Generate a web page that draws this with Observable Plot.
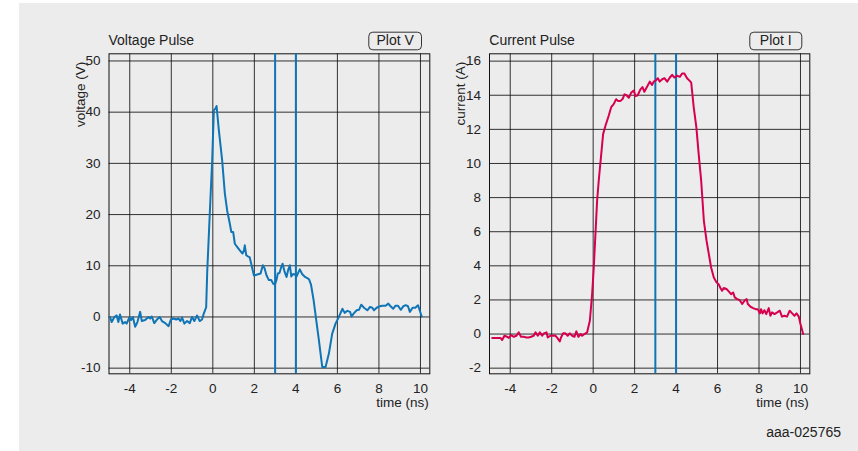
<!DOCTYPE html>
<html>
<head>
<meta charset="utf-8">
<script src="https://cdn.jsdelivr.net/npm/d3@7"></script>
<script src="https://cdn.jsdelivr.net/npm/@observablehq/plot@0.6"></script>
<style>
  html, body { margin: 0; padding: 0; background: #ffffff; }
  #page { position: relative; width: 858px; height: 451px; background: #ffffff; overflow: hidden; }
  #bg { position: absolute; left: 19px; top: 3px; right: 0; bottom: 0; background: #ececec; }
  .panel { position: absolute; top: 0; }
  #overlay { position: absolute; left: 0; top: 0; }
</style>
</head>
<body>
<div id="page">
  <div id="bg"></div>
  <div id="left" class="panel" style="left:0px"></div>
  <div id="right" class="panel" style="left:440px"></div>
</div>
<script>
// ---- data ----
const voltTime = [-4.95,-4.87,-4.74,-4.63,-4.55,-4.47,-4.34,-4.23,-4.15,-4.02,-3.94,-3.85,-3.74,-3.63,-3.5,-3.42,-3.26,-3.1,-3.02,-2.94,-2.82,-2.69,-2.56,-2.45,-2.29,-2.13,-2.02,-1.89,-1.76,-1.65,-1.56,-1.48,-1.37,-1.24,-1.11,-1.0,-0.89,-0.76,-0.63,-0.52,-0.44,-0.32,-0.27,-0.14,-0.03,0.05,0.13,0.18,0.29,0.45,0.58,0.69,0.82,0.89,0.98,1.06,1.17,1.30,1.43,1.5,1.54,1.61,1.71,1.77,1.85,1.98,2.14,2.30,2.41,2.49,2.59,2.70,2.81,2.91,2.99,3.07,3.13,3.21,3.30,3.36,3.46,3.55,3.63,3.71,3.78,3.87,3.95,4.03,4.11,4.19,4.30,4.42,4.55,4.64,4.73,4.85,4.96,5.11,5.27,5.43,5.59,5.75,5.91,6.07,6.24,6.35,6.48,6.61,6.68,6.80,6.93,7.04,7.15,7.28,7.44,7.57,7.68,7.76,7.89,8.05,8.16,8.32,8.45,8.56,8.69,8.80,8.92,9.05,9.18,9.29,9.40,9.49,9.62,9.75,9.88,9.94,10.06];
const voltValue = [0,-1,0,0.3,-1,0.5,-1.3,-1,-1.3,-0.1,-0.6,0,-1.9,-1,1,-0.8,-0.6,0,-0.3,0.1,-1.2,-0.5,0,-0.8,-1.2,-1.8,-0.5,-0.3,-0.5,-0.3,-0.8,-0.1,-1.3,-0.8,-1.2,0,-0.8,0.3,-0.8,-0.5,0.6,1.9,8.8,20.8,30.6,40.4,40.7,41.2,36.5,30.6,24.1,20.8,18.2,16.6,16.6,14.3,13.7,13.0,12.4,13,14.0,12.05,11.8,11.7,10.4,8.1,8.3,8.5,10.1,9.5,8.1,7.2,7.2,6.5,6.3,7.3,8.5,8.6,9.8,10.4,8.8,7.8,9.2,10.1,7.9,8.4,8.3,7.9,8.6,9.3,8.4,7.9,7.6,7.3,6.3,3.4,0,-4.55,-9.77,-9.77,-7.15,-3.25,-1.3,0,1.6,0.8,1.2,1.0,0.1,0.75,1.3,1.4,2.4,1.8,1.3,1.95,1.8,1.3,1.8,2.1,2.2,2.2,2.6,2.1,1.6,2.2,2.2,1.4,2.1,2.3,2.1,1.0,1.8,1.8,2.3,1.6,0.1];

const currTime = [-4.87,-4.47,-4.39,-4.28,-4.15,-4.07,-3.96,-3.83,-3.70,-3.59,-3.48,-3.35,-3.22,-3.11,-2.99,-2.87,-2.78,-2.67,-2.57,-2.46,-2.38,-2.25,-2.19,-2.06,-1.93,-1.82,-1.71,-1.61,-1.55,-1.45,-1.34,-1.23,-1.13,-1.01,-0.90,-0.81,-0.71,-0.61,-0.53,-0.42,-0.29,-0.16,-0.05,0.03,0.19,0.27,0.39,0.48,0.59,0.75,0.87,0.99,1.11,1.19,1.32,1.43,1.51,1.61,1.72,1.83,1.96,2.04,2.15,2.28,2.38,2.47,2.60,2.73,2.84,2.92,3.03,3.12,3.21,3.33,3.44,3.57,3.70,3.81,3.92,4.05,4.18,4.29,4.40,4.53,4.66,4.73,4.85,4.98,5.09,5.21,5.34,5.47,5.58,5.69,5.82,5.95,6.06,6.14,6.22,6.30,6.43,6.54,6.65,6.75,6.83,6.95,7.06,7.19,7.30,7.40,7.46,7.59,7.72,7.83,7.94,8.04,8.10,8.17,8.26,8.35,8.47,8.55,8.63,8.75,8.88,9.0,9.11,9.23,9.35,9.48,9.60,9.71,9.81,9.92,10.0,10.13];
const currValue = [-0.23,-0.23,-0.35,-0.10,-0.16,-0.23,-0.06,-0.16,-0.10,0.10,-0.16,-0.16,-0.20,-0.20,-0.16,-0.10,0.10,-0.10,0.10,-0.10,0.04,0.10,-0.20,-0.10,-0.08,-0.10,-0.25,-0.43,-0.20,0.04,0.04,-0.10,0.04,-0.10,-0.16,0.16,-0.16,0.0,-0.10,0.0,0.10,0.78,2.34,3.9,7.8,9.0,10.55,11.72,12.2,12.8,13.3,13.48,13.77,13.67,13.67,13.8,14.05,14.0,13.85,14.14,14.28,13.95,14.0,14.34,14.48,14.2,14.5,14.8,14.6,14.8,14.88,15.0,14.8,14.94,15.0,14.8,15.04,15.2,15.04,15.14,15.08,15.27,15.27,15.0,14.84,14.74,13.3,12.1,10.55,9.0,6.64,5.47,4.69,3.9,3.32,3.03,2.9,2.7,2.54,2.7,2.64,2.5,2.34,2.44,2.15,2.05,2.0,1.76,1.95,2.05,1.76,1.6,1.52,1.46,1.46,1.21,1.46,1.21,1.4,1.17,1.52,1.07,1.27,1.17,1.27,1.37,1.02,1.07,1.02,1.37,1.21,1.07,1.21,1.02,0.59,0];

const timeTicks = [-4, -2, 0, 2, 4, 6, 8, 10];
const voltTicks = [-10, 0, 10, 20, 30, 40, 50];
const currTicks = [-2, 0, 2, 4, 6, 8, 10, 12, 14, 16];
const markerTimes = [3, 4];

const voltDomain = [-11.1, 51.4];
const currDomain = [-2.33, 16.43];
const timeDomain = [-5, 10.45];

const FONT = "'Liberation Sans', Arial, Helvetica, sans-serif";
const INK = "#222222";
const BLUE = "#0f75b6";
const RED = "#d6004f";
const FS = 13.5;
const FS_TITLE = 14;

function panel({times, values, yTicks, yDomain, yLabel, color, width, marginLeft, marginRight}) {
  const data = times.map((t, i) => ({t, v: values[i]}));
  return Plot.plot({
    width, height: 451,
    marginLeft, marginRight, marginTop: 53.3, marginBottom: 77.7,
    style: {background: "transparent", fontFamily: FONT, fontSize: FS + "px", color: INK, overflow: "visible"},
    x: {domain: timeDomain, label: null},
    y: {domain: yDomain, label: null},
    marks: [
      Plot.ruleX(timeTicks, {stroke: "#111", strokeOpacity: 0.85, strokeWidth: 1}),
      Plot.ruleY(yTicks, {stroke: "#111", strokeOpacity: 0.85, strokeWidth: 1}),
      Plot.frame({stroke: "#111", strokeWidth: 1}),
      Plot.ruleX(markerTimes, {stroke: BLUE, strokeWidth: 2}),
      Plot.line(data, {x: "t", y: "v", stroke: color, strokeWidth: 2, strokeLinejoin: "round"}),
      Plot.axisX(timeTicks, {tickSize: 0, tickPadding: 9.5, tickFormat: d => String(d), fill: INK, label: null}),
      Plot.axisY(yTicks, {tickSize: 0, tickPadding: 8.5, tickFormat: d => String(d), fill: INK, label: null}),
      Plot.text([yLabel], {frameAnchor: "top-left", rotate: -90, textAnchor: "end", dx: -34, dy: 8, fontSize: FS, fill: INK}),
      Plot.text(["time (ns)"], {frameAnchor: "bottom-right", textAnchor: "end", dx: -1, dy: 33.5, fontSize: FS, fill: INK})
    ]
  });
}

document.getElementById("left").appendChild(panel({
  times: voltTime, values: voltValue, yTicks: voltTicks, yDomain: voltDomain,
  yLabel: "voltage (V)", color: BLUE, width: 440, marginLeft: 108.5, marginRight: 10.7
}));
document.getElementById("right").appendChild(panel({
  times: currTime, values: currValue, yTicks: currTicks, yDomain: currDomain,
  yLabel: "current (A)", color: RED, width: 418, marginLeft: 49, marginRight: 48.7
}));

// ---- titles, buttons, footer ----
const titles = [
  {text: "Voltage Pulse", x: 108.5, y: 45},
  {text: "Current Pulse", x: 489.3, y: 45}
];
const buttons = [
  {text: "Plot V", x: 368.3, y: 31.7, w: 52.7, h: 17.6},
  {text: "Plot I", x: 749.3, y: 31.7, w: 52, h: 17.6}
];
const footer = "aaa-025765";

const svg = d3.select("#page").append("svg")
  .attr("id", "overlay").attr("width", 858).attr("height", 451)
  .style("font-family", FONT).style("pointer-events", "none");
svg.selectAll("text.title").data(titles).join("text")
  .attr("class", "title").attr("x", d => d.x).attr("y", d => d.y)
  .attr("font-size", FS_TITLE).attr("fill", INK).text(d => d.text);
const b = svg.selectAll("g.btn").data(buttons).join("g").attr("class", "btn");
b.append("rect").attr("x", d => d.x + 0.5).attr("y", d => d.y + 0.5)
  .attr("width", d => d.w).attr("height", d => d.h).attr("rx", 4)
  .attr("fill", "#ececec").attr("stroke", "#333").attr("stroke-width", 1);
b.append("text").attr("x", d => d.x + d.w / 2 + 0.5).attr("y", d => d.y + 13.6)
  .attr("text-anchor", "middle").attr("font-size", FS_TITLE).attr("fill", INK).text(d => d.text);
svg.append("text").attr("x", 841).attr("y", 437).attr("text-anchor", "end")
  .attr("font-size", FS_TITLE).attr("fill", INK).text(footer);
</script>
</body>
</html>
